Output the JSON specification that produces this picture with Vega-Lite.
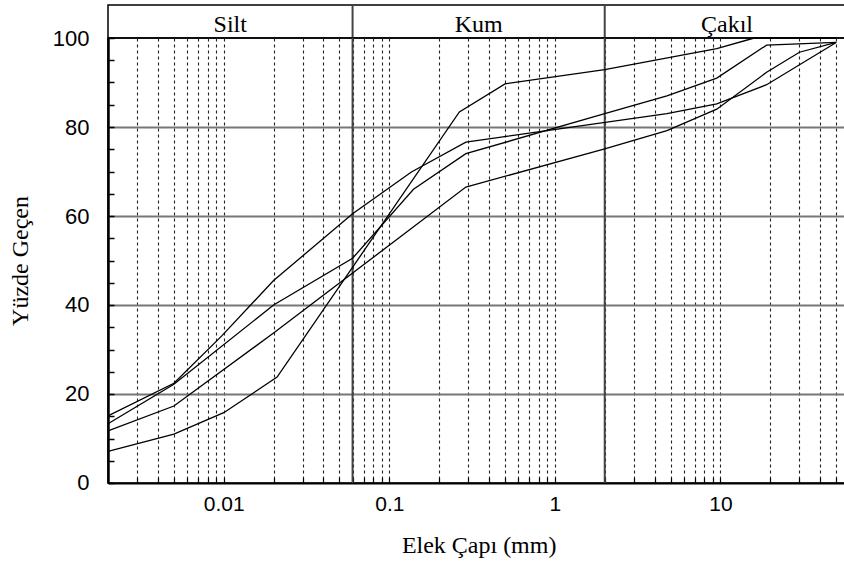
{
  "$schema": "https://vega.github.io/schema/vega-lite/v6.json",
  "background": "white",
  "padding": {"left": 7, "top": 3, "right": -4, "bottom": 4},
  "spacing": 0,
  "bounds": "flush",
  "datasets": {
    "curves": [
      {"c": "A", "d": 0.002, "p": 15.1}, {"c": "A", "d": 0.005, "p": 22.4}, {"c": "A", "d": 0.0097, "p": 33}, {"c": "A", "d": 0.02, "p": 45.5}, {"c": "A", "d": 0.06, "p": 60.5}, {"c": "A", "d": 0.136, "p": 69.9}, {"c": "A", "d": 0.29, "p": 76.6}, {"c": "A", "d": 4.75, "p": 83}, {"c": "A", "d": 9.5, "p": 85.2}, {"c": "A", "d": 19, "p": 89.5}, {"c": "A", "d": 50, "p": 99},
      {"c": "B", "d": 0.002, "p": 13.3}, {"c": "B", "d": 0.005, "p": 22.2}, {"c": "B", "d": 0.02, "p": 40}, {"c": "B", "d": 0.06, "p": 50.5}, {"c": "B", "d": 0.14, "p": 66}, {"c": "B", "d": 0.29, "p": 74}, {"c": "B", "d": 2, "p": 83}, {"c": "B", "d": 4.75, "p": 87}, {"c": "B", "d": 9.5, "p": 91}, {"c": "B", "d": 19, "p": 98.4}, {"c": "B", "d": 50, "p": 99},
      {"c": "C", "d": 0.002, "p": 11.7}, {"c": "C", "d": 0.005, "p": 17.3}, {"c": "C", "d": 0.02, "p": 33.7}, {"c": "C", "d": 0.29, "p": 66.5}, {"c": "C", "d": 2, "p": 75.1}, {"c": "C", "d": 4.75, "p": 79.2}, {"c": "C", "d": 9.5, "p": 84}, {"c": "C", "d": 19, "p": 92.3}, {"c": "C", "d": 30, "p": 96.8}, {"c": "C", "d": 50, "p": 99},
      {"c": "D", "d": 0.002, "p": 7.1}, {"c": "D", "d": 0.005, "p": 11}, {"c": "D", "d": 0.01, "p": 15.8}, {"c": "D", "d": 0.021, "p": 23.8}, {"c": "D", "d": 0.265, "p": 83.4}, {"c": "D", "d": 0.5, "p": 89.7}, {"c": "D", "d": 2, "p": 92.9}, {"c": "D", "d": 9.5, "p": 97.6}, {"c": "D", "d": 16, "p": 100}, {"c": "D", "d": 50, "p": 100}
    ],
    "bands": [
      {"label": "Silt", "from": 0.002, "to": 0.06},
      {"label": "Kum", "from": 0.06, "to": 2},
      {"label": "Çakıl", "from": 2, "to": 60}
    ],
    "dividers": [{"d": 0.06}, {"d": 2}]
  },
  "config": {
    "concat": {"spacing": 0},
    "view": {"stroke": "black", "strokeWidth": 1.5},
    "axis": {"labelFont": "Liberation Sans", "labelColor": "black", "titleFont": "Liberation Serif", "titleColor": "black", "titleFontWeight": "normal"}
  },
  "vconcat": [
    {
      "width": 741.3,
      "height": 33,
      "layer": [
        {
          "data": {"name": "bands"},
          "transform": [{"calculate": "sqrt(datum.from * datum.to)", "as": "mid"}],
          "mark": {"type": "text", "font": "Liberation Serif", "fontSize": 24, "baseline": "middle", "dy": 3, "color": "black"},
          "encoding": {
            "x": {"field": "mid", "type": "quantitative", "scale": {"type": "log", "domain": [0.002, 60], "nice": false}, "axis": null},
            "text": {"field": "label"}
          }
        },
        {
          "data": {"name": "dividers"},
          "mark": {"type": "rule", "color": "#444", "strokeWidth": 2},
          "encoding": {"x": {"field": "d", "type": "quantitative", "axis": null}}
        }
      ]
    },
    {
      "width": 741.3,
      "height": 445,
      "layer": [
        {
          "data": {"name": "dividers"},
          "mark": {"type": "rule", "color": "#444", "strokeWidth": 2},
          "encoding": {
            "x": {
              "field": "d", "type": "quantitative",
              "scale": {"type": "log", "domain": [0.002, 60], "nice": false},
              "axis": {
                "values": [0.003, 0.004, 0.005, 0.006, 0.007, 0.008, 0.009, 0.01, 0.02, 0.03, 0.04, 0.05, 0.06, 0.07, 0.08, 0.09, 0.1, 0.2, 0.3, 0.4, 0.5, 0.6, 0.7, 0.8, 0.9, 1, 2, 3, 4, 5, 6, 7, 8, 9, 10, 20, 30, 40, 50],
                "format": "~g",
                "labelExpr": "(datum.value == 0.01 || datum.value == 0.1 || datum.value == 1 || datum.value == 10) ? datum.label : ''",
                "labelFontSize": 21,
                "labelPadding": 16,
                "tickSize": -5,
                "tickColor": "black",
                "tickWidth": 1.2,
                "domainColor": "black",
                "domainWidth": 2,
                "grid": true,
                "gridDash": [3, 3],
                "gridColor": "#222",
                "gridWidth": 1.1,
                "title": "Elek Çapı (mm)",
                "titleFontSize": 24,
                "titlePadding": 19
              }
            }
          }
        },
        {
          "data": {"name": "curves"},
          "mark": {"type": "line", "color": "black", "strokeWidth": 1.3},
          "encoding": {
            "x": {"field": "d", "type": "quantitative"},
            "y": {
              "field": "p", "type": "quantitative",
              "scale": {"domain": [0, 100], "nice": false},
              "axis": {
                "values": [0, 5, 10, 15, 20, 25, 30, 35, 40, 45, 50, 55, 60, 65, 70, 75, 80, 85, 90, 95, 100],
                "labelExpr": "datum.value % 20 == 0 ? datum.label : ''",
                "labelFontSize": 22,
                "labelPadding": 25,
                "tickSize": -6,
                "tickColor": "black",
                "tickWidth": 1.5,
                "domainColor": "black",
                "domainWidth": 2.5,
                "grid": true,
                "gridColor": "#777",
                "gridWidth": 2,
                "gridOpacity": {"condition": {"test": "datum.value % 20 == 0 && datum.value > 0 && datum.value < 100", "value": 1}, "value": 0},
                "title": "Yüzde Geçen",
                "titleFontSize": 24,
                "titlePadding": 20
              }
            },
            "detail": {"field": "c"}
          }
        }
      ]
    }
  ]
}
